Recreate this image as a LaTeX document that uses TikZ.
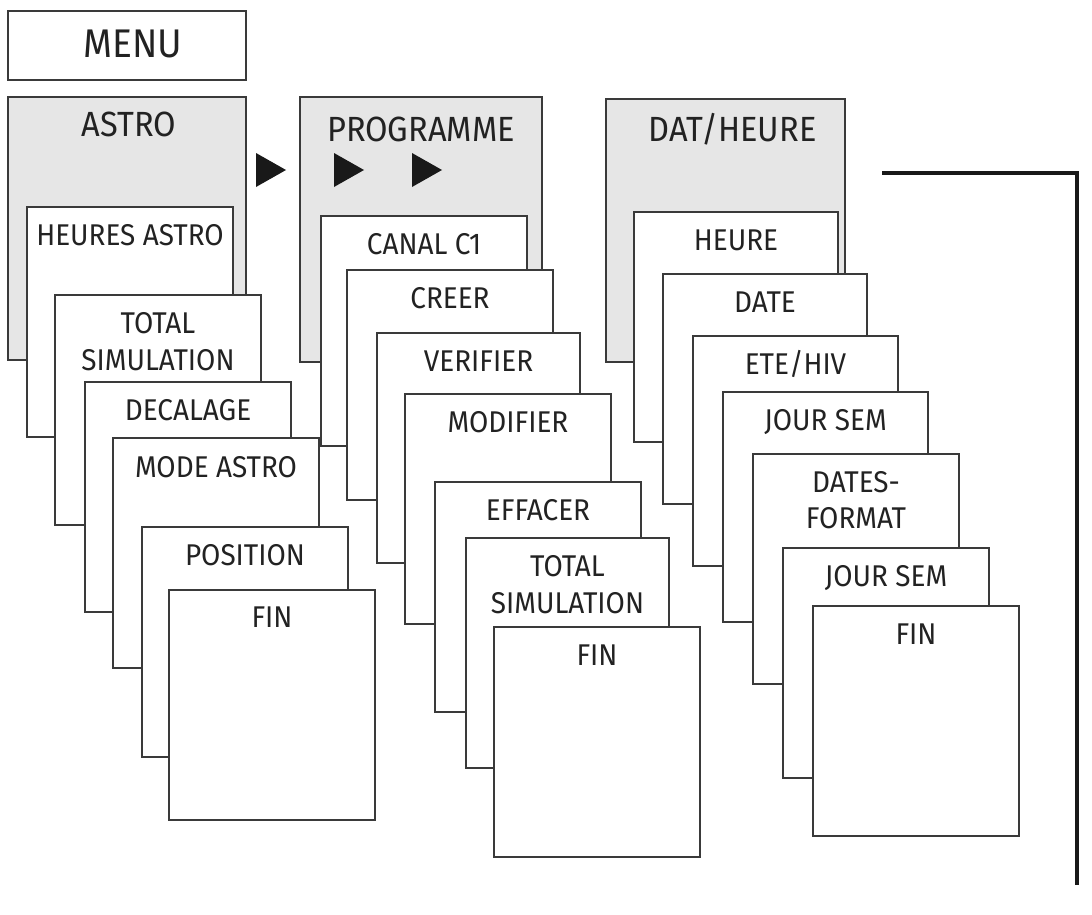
\documentclass[tikz,border=0pt]{standalone}
\usepackage{fontspec}
\setmainfont[FakeStretch=0.93]{Fira Sans}
\definecolor{linec}{HTML}{3A3A3A}
\definecolor{grayf}{HTML}{E6E6E6}
\definecolor{textc}{HTML}{222222}
\newcommand{\itemfont}{\fontsize{30}{36}\selectfont}
\newcommand{\titlefont}{\fontsize{35}{42}\selectfont}
\newcommand{\menufont}{\fontsize{40}{48}\selectfont}
\begin{document}
\begin{tikzpicture}[
  x=1pt, y=-1pt,
  frame/.style={draw=linec, line width=2pt, fill=white, anchor=north west, inner sep=0pt, outer sep=0pt},
  item/.style={frame, minimum width=206pt, minimum height=230pt},
  group/.style={frame, fill=grayf},
  lbl/.style={anchor=base, inner sep=0pt, text=textc, font=\itemfont},
  ttl/.style={anchor=base, inner sep=0pt, text=textc, font=\titlefont},
  tri/.style={fill=black!90},
  lline/.style={draw=black!90, line width=3.5pt}
]
\useasboundingbox (0,0) rectangle (1092,915);

% MENU
\node[frame, minimum width=238pt, minimum height=69pt] (menu) at (8,11) {};
\node[anchor=base, inner sep=0pt, text=textc, font=\menufont] (menut) at (133,58) {MENU};

% group boxes
\node[group, minimum width=238pt, minimum height=263pt,
  label={[ttl, yshift=-40pt, xshift=2pt]north:ASTRO}] (astro) at (8,97) {};
\node[group, minimum width=242pt, minimum height=265pt,
  label={[ttl, yshift=-45pt]north:PROGRAMME}] (prog) at (300,97) {};
\node[group, minimum width=239pt, minimum height=263pt,
  label={[ttl, yshift=-43pt, xshift=7pt]north:DAT/HEURE}] (dat) at (606,99) {};

% arrows
\fill[tri] (256,153) -- (286,170) -- (256,187) -- cycle;
\fill[tri] (334,153) -- (364,170) -- (334,187) -- cycle;
\fill[tri] (412,153) -- (442,170) -- (412,187) -- cycle;

% ASTRO column
\node[item, label={[lbl, yshift=-38pt]north:HEURES ASTRO}] (a1) at (27,207) {};
\node[item, label={[lbl, yshift=-38pt]north:TOTAL}, label={[lbl, yshift=-75pt]north:SIMULATION}] (a2) at (55,295) {};
\node[item, label={[lbl, yshift=-38pt]north:DECALAGE}] (a3) at (85,382) {};
\node[item, label={[lbl, yshift=-39pt]north:MODE ASTRO}] (a4) at (113,438) {};
\node[item, label={[lbl, yshift=-38pt]north:POSITION}] (a5) at (142,527) {};
\node[item, label={[lbl, yshift=-37pt]north:FIN}] (a6) at (169,590) {};

% PROGRAMME column
\node[item, label={[lbl, yshift=-38pt]north:CANAL C1}] (p1) at (321,216) {};
\node[item, label={[lbl, yshift=-38pt]north:CREER}] (p2) at (347,270) {};
\node[item, minimum width=203pt, label={[lbl, yshift=-38pt]north:VERIFIER}] (p3) at (377,333) {};
\node[item, label={[lbl, yshift=-38pt]north:MODIFIER}] (p4) at (405,394) {};
\node[item, label={[lbl, yshift=-38pt]north:EFFACER}] (p5) at (435,482) {};
\node[item, minimum width=203pt, label={[lbl, yshift=-38pt]north:TOTAL}, label={[lbl, yshift=-75pt]north:SIMULATION}] (p6) at (466,538) {};
\node[item, label={[lbl, yshift=-38pt]north:FIN}] (p7) at (494,627) {};

% DAT/HEURE column
\node[item, minimum width=204pt, label={[lbl, yshift=-38pt]north:HEURE}] (d1) at (634,212) {};
\node[item, minimum width=204pt, label={[lbl, yshift=-38pt]north:DATE}] (d2) at (663,274) {};
\node[item, minimum width=205pt, label={[lbl, yshift=-38pt]north:ETE/HIV}] (d3) at (693,336) {};
\node[item, minimum width=205pt, label={[lbl, yshift=-38pt]north:JOUR SEM}] (d4) at (723,392) {};
\node[item, label={[lbl, yshift=-38pt]north:DATES-}, label={[lbl, yshift=-74pt]north:FORMAT}] (d5) at (753,454) {};
\node[item, label={[lbl, yshift=-38pt]north:JOUR SEM}] (d6) at (783,548) {};
\node[item, label={[lbl, yshift=-38pt]north:FIN}] (d7) at (813,606) {};

% return line
\coordinate (r1) at (882,173);
\coordinate (r2) at (1077,885);
\draw[lline] (r1) -| (r2);
\end{tikzpicture}
\end{document}
